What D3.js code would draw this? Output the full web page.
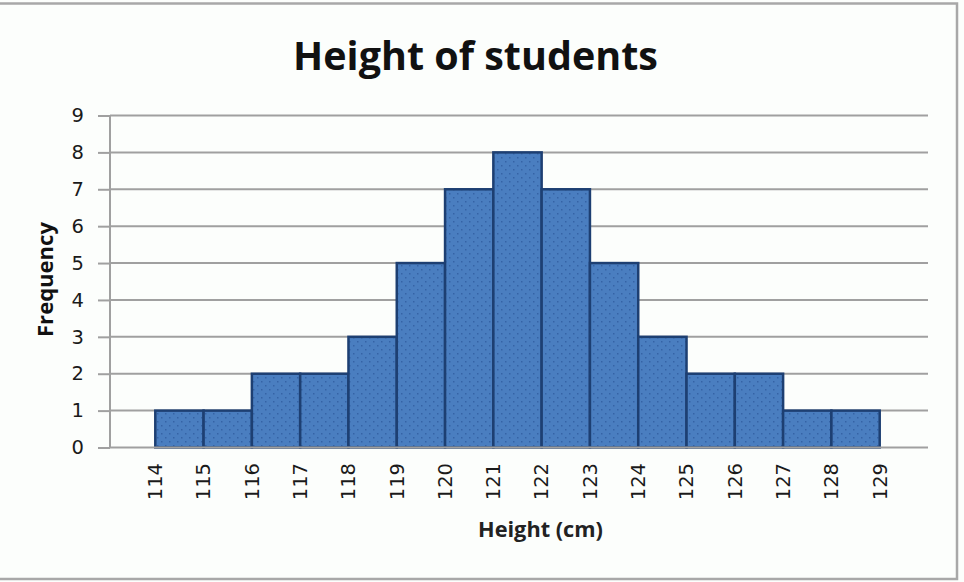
<!DOCTYPE html>
<html>
<head>
<meta charset="utf-8">
<script src="https://cdn.jsdelivr.net/npm/d3@7"></script>
<style>
  html, body { margin: 0; padding: 0; background: #fcfefc; }
  svg { display: block; }
</style>
</head>
<body>
<svg id="chart" width="964" height="582"></svg>
<script>
// ---- data ----
const binStarts = [114,115,116,117,118,119,120,121,122,123,124,125,126,127,128];
const frequencies = [1,1,2,2,3,5,7,8,7,5,3,2,2,1,1];
const xTickLabels = [114,115,116,117,118,119,120,121,122,123,124,125,126,127,128,129];
const yTickValues = [0,1,2,3,4,5,6,7,8,9];
const titleText = "Height of students";
const xTitleText = "Height (cm)";
const yTitleText = "Frequency";

const svg = d3.select("#chart");
const W = 964, H = 582;

// background + frame
svg.append("rect").attr("x", 0).attr("y", 0).attr("width", W).attr("height", H).attr("fill", "#fcfefc");
svg.append("rect").attr("x", -3).attr("y", 3.5).attr("width", 960).attr("height", 575.5)
  .attr("fill", "none").attr("stroke", "#a8a8a8").attr("stroke-width", 2.5);

// pattern for dotted bar texture
const defs = svg.append("defs");
const pat = defs.append("pattern").attr("id", "dots").attr("patternUnits", "userSpaceOnUse")
  .attr("width", 8).attr("height", 8);
pat.append("rect").attr("width", 8).attr("height", 8).attr("fill", "#4a7ec0");
pat.append("rect").attr("x", 1).attr("y", 1).attr("width", 1.5).attr("height", 1.5).attr("fill", "#3563a6");
pat.append("rect").attr("x", 5).attr("y", 5).attr("width", 1.5).attr("height", 1.5).attr("fill", "#3563a6");

// scales
const axisX = 110, plotRight = 928;
const x = d3.scaleLinear().domain([113, 130]).range([107, 928]);
const y = d3.scaleLinear().domain([0, 9]).range([447.5, 115.5]);

// gridlines
svg.append("g").selectAll("line").data(yTickValues.filter(v => v > 0)).join("line")
  .attr("x1", axisX).attr("x2", plotRight)
  .attr("y1", d => y(d)).attr("y2", d => y(d))
  .attr("stroke", "#a0a0a0").attr("stroke-width", 2);

// bars
svg.append("g").selectAll("rect").data(binStarts).join("rect")
  .attr("x", (d) => x(d))
  .attr("width", d => x(d + 1) - x(d))
  .attr("y", (d, i) => y(frequencies[i]))
  .attr("height", (d, i) => y(0) - y(frequencies[i]))
  .attr("fill", "url(#dots)")
  .attr("stroke", "#1d3f72").attr("stroke-width", 2.5);

// x baseline
svg.append("line").attr("x1", axisX).attr("x2", plotRight)
  .attr("y1", y(0)).attr("y2", y(0)).attr("stroke", "#a0a0a0").attr("stroke-width", 2);

// y axis
const yAxis = d3.axisLeft(y).tickValues(yTickValues).tickFormat(d3.format("d")).tickSize(12).tickPadding(14);
const gy = svg.append("g").attr("transform", `translate(${axisX},0)`).call(yAxis);
gy.select(".domain").attr("stroke", "#a0a0a0").attr("stroke-width", 2)
  .attr("d", `M0,${y(9)}V${y(0)}`);
gy.selectAll(".tick line").attr("stroke", "#a0a0a0").attr("stroke-width", 2);
gy.selectAll(".tick text").attr("font-family", "DejaVu Sans").attr("font-size", 19.5).attr("fill", "#1a1a1a");

// x tick labels (rotated)
svg.append("g").selectAll("text").data(xTickLabels).join("text")
  .attr("transform", d => `translate(${x(d)},463) rotate(-90)`)
  .attr("text-anchor", "end").attr("dy", "0.35em")
  .attr("font-family", "DejaVu Sans").attr("font-size", 19.5).attr("fill", "#1a1a1a")
  .text(d => d);

// helper: fit bold text to measured width
function fit(sel, target) {
  const w = sel.node().getComputedTextLength();
  const fs = parseFloat(sel.attr("font-size"));
  sel.attr("font-size", fs * target / w);
}

// title
const t = svg.append("text").attr("x", 475.5).attr("y", 70).attr("text-anchor", "middle")
  .attr("font-family", "Open Sans").attr("font-weight", "bold").attr("font-size", 36)
  .attr("fill", "#111").text(titleText);
fit(t, 365);

// x title
const xt = svg.append("text").attr("x", 540.5).attr("y", 537).attr("text-anchor", "middle")
  .attr("font-family", "Open Sans").attr("font-weight", "bold").attr("font-size", 18)
  .attr("fill", "#222").text(xTitleText);
fit(xt, 125);

// y title
const yt = svg.append("text").attr("transform", "translate(53,279.5) rotate(-90)").attr("text-anchor", "middle")
  .attr("font-family", "Open Sans").attr("font-weight", "bold").attr("font-size", 18)
  .attr("fill", "#111").text(yTitleText);
fit(yt, 115);
</script>
</body>
</html>
